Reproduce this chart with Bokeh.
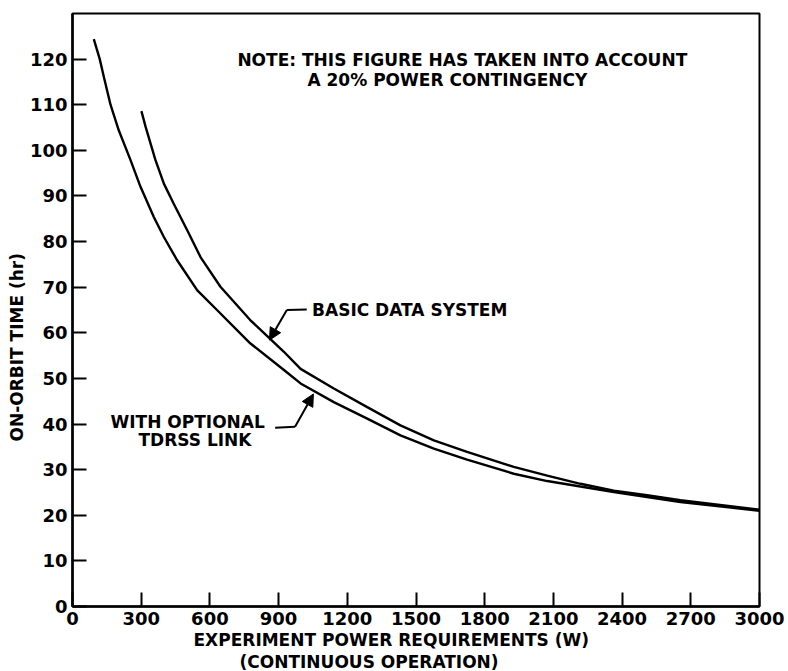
import math
from bokeh.plotting import figure
from bokeh.models import Label, Arrow, NormalHead, Range1d, FixedTicker, Title
from bokeh.embed import file_html
from bokeh.resources import INLINE

# Data
tdrss_power = [93, 119, 137, 166, 202, 253, 297, 355, 399, 457, 545, 631, 776, 922, 996, 1141,
               1287, 1432, 1578, 1723, 1927, 2073, 2218, 2364, 2509, 2655, 3000]
tdrss_time = [124.4, 120.0, 116.1, 110.0, 104.4, 97.9, 92.0, 85.4, 81.0, 75.9, 69.3, 65.0, 57.7, 51.9,
              48.9, 44.8, 41.2, 37.5, 34.6, 32.2, 29.1, 27.5, 26.3, 25.1, 24.0, 22.9, 21.0]

basic_power = [301, 319, 362, 399, 442, 501, 559, 646, 776, 922, 996, 1141, 1287, 1432, 1578, 1723,
               1927, 2073, 2218, 2364, 2509, 2655, 3000]
basic_time = [108.6, 105.2, 97.9, 92.7, 88.3, 82.5, 76.6, 70.1, 62.8, 55.9, 52.1, 47.8, 43.7, 39.7,
              36.4, 33.9, 30.6, 28.7, 26.9, 25.4, 24.4, 23.3, 21.2]

x_ticks = [0, 300, 600, 900, 1200, 1500, 1800, 2100, 2400, 2700, 3000]
y_ticks = [0, 10, 20, 30, 40, 50, 60, 70, 80, 90, 100, 110, 120]

FONT = "DejaVu Sans"

p = figure(width=786, height=671, x_range=Range1d(0, 3000), y_range=Range1d(0, 130),
           output_backend="svg", toolbar_location=None,
           min_border_left=72, min_border_right=27, min_border_top=13, min_border_bottom=65)
p.grid.visible = False
p.background_fill_color = "white"
p.border_fill_color = "white"
p.outline_line_color = "black"
p.outline_line_width = 2
p.outline_line_alpha = 1

p.xaxis.ticker = FixedTicker(ticks=x_ticks)
p.yaxis.ticker = FixedTicker(ticks=y_ticks)
p.axis.major_tick_in = 14
p.axis.major_tick_out = 0
p.axis.minor_tick_line_color = None
p.axis.axis_line_width = 2.5
p.axis.axis_line_color = "black"
p.axis.major_tick_line_width = 2
p.axis.major_tick_line_color = "black"
p.axis.major_label_text_font = FONT
p.axis.major_label_text_font_style = "bold"
p.axis.major_label_text_font_size = "18px"
p.axis.major_label_text_color = "black"
p.yaxis.major_label_standoff = 5
p.xaxis.major_label_standoff = 5

p.line(tdrss_power, tdrss_time, line_color="black", line_width=2.4)
p.line(basic_power, basic_time, line_color="black", line_width=2.4)

def lab(x, y, text, size="17px"):
    p.add_layout(Label(x=x, y=y, text=text, text_font=FONT, text_font_style="bold",
                       text_font_size=size, text_align="left", text_baseline="middle",
                       text_color="black"))

lab(720, 119.8, "NOTE: THIS FIGURE HAS TAKEN INTO ACCOUNT")
lab(1026, 115.4, "A 20% POWER CONTINGENCY")
lab(1046, 64.9, "BASIC DATA SYSTEM")
lab(166, 40.4, "WITH OPTIONAL")
lab(288, 36.4, "TDRSS LINK")

# axis titles
def ttl(text, side, offset, standoff):
    t = Title(text=text, align="left", offset=offset, text_font=FONT, text_font_style="bold",
              text_font_size="17px", text_color="black", standoff=standoff)
    p.add_layout(t, side)

ttl("EXPERIMENT POWER REQUIREMENTS (W)", "below", 121, 0)
ttl("(CONTINUOUS OPERATION)", "below", 167, 0)
ttl("ON-ORBIT TIME (hr)", "left", 165, 0)

# leaders and arrows
p.line([1023, 936], [65.1, 65.0], line_color="black", line_width=2)
p.add_layout(Arrow(end=NormalHead(size=12, fill_color="black", line_color="black"),
                   x_start=936, y_start=65.0, x_end=860, y_end=58.4,
                   line_width=2, line_color="black"))
p.line([885, 972], [39.2, 39.4], line_color="black", line_width=2)
p.add_layout(Arrow(end=NormalHead(size=12, fill_color="black", line_color="black"),
                   x_start=972, y_start=39.4, x_end=1052, y_end=46.6,
                   line_width=2, line_color="black"))

open("out.html", "w").write(file_html(p, INLINE))
